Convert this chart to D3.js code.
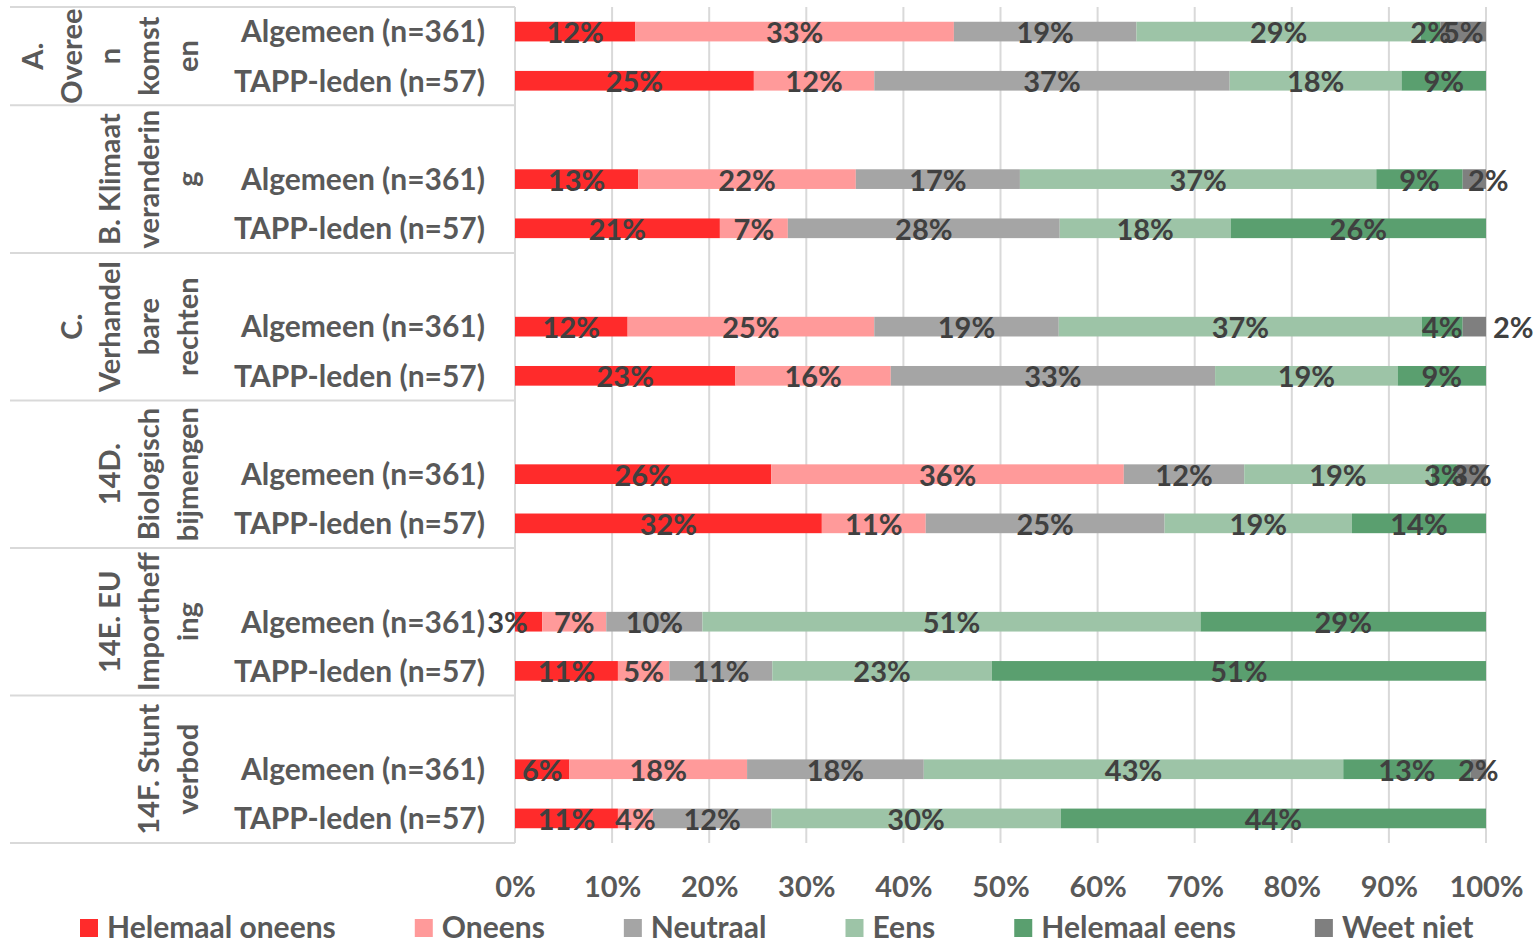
<!DOCTYPE html>
<html>
<head>
<meta charset="utf-8">
<script src="https://cdn.jsdelivr.net/npm/d3@7"></script>
<style>
body { margin: 0; background: #ffffff; }
svg { display: block; font-family: Lato, "Noto Sans", sans-serif; font-weight: 700; }
</style>
</head>
<body>
<svg id="chart" width="1540" height="941"></svg>
<script>
const COL_RED =      '#ff2b2b';
const COL_PINK =     '#ff9a9a';
const COL_GRAY =     '#a5a5a5';
const COL_LGREEN =   '#9dc4a7';
const COL_DGREEN =   '#5a9f6f';
const COL_DGRAY =    '#7f7f7f';
const TXT_DARK =     '#404040';
const TXT_AXIS =     '#595959';
const GRID =         '#d9d9d9';

// data
const answers = ['Helemaal oneens', 'Oneens', 'Neutraal', 'Eens', 'Helemaal eens', 'Weet niet'];
const answerColors = [COL_RED, COL_PINK, COL_GRAY, COL_LGREEN, COL_DGREEN, COL_DGRAY];

const groupIds = ['A', 'B', 'C', 'D', 'E', 'F'];
const groupLines = [
    ['A.', 'Overee', 'n', 'komst', 'en'],
    ['B. Klimaat', 'veranderin', 'g'],
    ['C.', 'Verhandel', 'bare', 'rechten'],
    ['14D.', 'Biologisch', 'bijmengen'],
    ['14E. EU', 'Importheff', 'ing'],
    ['14F. Stunt', 'verbod']
];
const respondents = ['Algemeen (n=361)', 'TAPP-leden (n=57)'];

// percentages in order of answers, one row per group
const algemeen = [
    [12.4, 32.8, 18.8, 29.3, 2.0, 4.7],
    [12.7, 22.4, 16.9, 36.7, 8.9, 2.4],
    [11.6, 25.4, 19.0, 37.4, 4.2, 2.4],
    [26.4, 36.3, 12.4, 19.3, 2.6, 3.0],
    [2.8, 6.6, 9.9, 51.3, 29.4, 0],
    [5.6, 18.3, 18.2, 43.2, 13.1, 1.6]
];
const tappLeden = [
    [24.6, 12.4, 36.6, 17.7, 8.7, 0],
    [21.1, 7.0, 28.0, 17.6, 26.3, 0],
    [22.7, 16.0, 33.4, 18.8, 9.1, 0],
    [31.6, 10.7, 24.6, 19.3, 13.8, 0],
    [10.6, 5.3, 10.6, 22.6, 50.9, 0],
    [10.6, 3.6, 12.2, 29.8, 43.8, 0]
];
const tickValues = [0, 10, 20, 30, 40, 50, 60, 70, 80, 90, 100];

// labels Excel had moved by hand
const labelNudge = {'C|0|Weet niet': 39, 'E|0|Helemaal oneens': -21, 'B|0|Weet niet': 14};

function draw_chart() {
    const svg = d3.select('svg#chart');

    const plotLeft = 515, plotRight = 1486, plotTop = 7, plotBottom = 843;

    // slots: every group except the first starts with an empty row
    const slots = [];
    const rows = [];
    groupIds.forEach((g, gi) => {
        if (gi > 0) slots.push(g + '|blank');
        [algemeen[gi], tappLeden[gi]].forEach((vals, ri) => {
            const key = g + '|' + ri;
            slots.push(key);
            const row = {key: key, group: g, label: respondents[ri]};
            answers.forEach((a, ai) => row[a] = vals[ai]);
            rows.push(row);
        });
    });

    const x = d3.scaleLinear().domain([0, 100]).range([plotLeft, plotRight]);
    const y = d3.scaleBand().domain(slots).range([plotTop, plotBottom])
        .paddingInner(0.6).paddingOuter(0.3);
    const color = d3.scaleOrdinal().domain(answers).range(answerColors);
    const slotStart = k => y(k) - y.step() * y.paddingOuter();

    // gridlines
    svg.append('g')
        .selectAll('line')
        .data(tickValues)
        .join('line')
        .attr('x1', d => x(d)).attr('x2', d => x(d))
        .attr('y1', plotTop).attr('y2', plotBottom)
        .attr('stroke', GRID).attr('stroke-width', 2);

    // group separators in the label area
    const groupStarts = groupIds.map((g, gi) => slotStart(gi > 0 ? g + '|blank' : g + '|0'));
    svg.append('g')
        .selectAll('line')
        .data(groupStarts.concat([plotBottom]))
        .join('line')
        .attr('x1', 10).attr('x2', plotLeft)
        .attr('y1', d => d).attr('y2', d => d)
        .attr('stroke', GRID).attr('stroke-width', 2);

    const series = d3.stack().keys(answers)(rows);

    const gBars = svg.append('g');
    gBars.selectAll('g')
        .data(series)
        .join('g')
        .attr('fill', d => color(d.key))
        .selectAll('rect')
        .data(d => d)
        .join('rect')
        .attr('x', d => x(d[0]))
        .attr('width', d => x(d[1]) - x(d[0]))
        .attr('y', d => y(d.data.key))
        .attr('height', y.bandwidth());

    // data labels
    const labelData = [];
    series.forEach(s => s.forEach(d => {
        if (d[1] - d[0] > 0) labelData.push({ans: s.key, d: d});
    }));
    svg.append('g')
        .selectAll('text')
        .data(labelData)
        .join('text')
        .attr('x', l => (x(l.d[0]) + x(l.d[1])) / 2 + (labelNudge[l.d.data.key + '|' + l.ans] || 0))
        .attr('y', l => y(l.d.data.key) + y.bandwidth() / 2 + 1)
        .attr('dy', '0.36em')
        .attr('text-anchor', 'middle')
        .attr('fill', TXT_DARK)
        .style('font-size', '29px')
        .text(l => d3.format('.0f')(l.d[1] - l.d[0]) + '%');

    // respondent labels
    svg.append('g')
        .selectAll('text')
        .data(rows)
        .join('text')
        .attr('x', 485)
        .attr('y', d => y(d.key) + y.bandwidth() / 2)
        .attr('dy', '0.36em')
        .attr('text-anchor', 'end')
        .attr('fill', TXT_AXIS)
        .style('font-size', '30px')
        .text(d => d.label);

    // group labels, rotated
    const lineGap = 38.8, lastBaseline = 198;
    groupIds.forEach((g, gi) => {
        const y0 = groupStarts[gi];
        const y1 = gi < groupIds.length - 1 ? groupStarts[gi + 1] : plotBottom;
        const lines = groupLines[gi];
        svg.append('g')
            .selectAll('text')
            .data(lines)
            .join('text')
            .attr('transform', (t, i) => `translate(${lastBaseline - (lines.length - 1 - i) * lineGap},${(y0 + y1) / 2}) rotate(-90)`)
            .attr('text-anchor', 'middle')
            .attr('fill', TXT_AXIS)
            .style('font-size', '29px')
            .text(t => t);
    });

    // x axis
    const xAxis = svg.append('g')
        .attr('transform', `translate(0,${plotBottom})`)
        .call(d3.axisBottom(x).tickValues(tickValues).tickFormat(d => d + '%').tickSize(0).tickPadding(33));
    xAxis.select('.domain').remove();
    xAxis.selectAll('text')
        .attr('fill', TXT_AXIS)
        .style('font-family', 'Lato, "Noto Sans", sans-serif')
        .style('font-weight', 700)
        .style('font-size', '29px');

    // legend
    const legend = svg.append('g').attr('transform', 'translate(80,927)');
    let lx = 0;
    answers.forEach((a, i) => {
        const item = legend.append('g').attr('transform', `translate(${lx},0)`);
        item.append('rect')
            .attr('x', 0).attr('y', -8)
            .attr('width', 18).attr('height', 18)
            .attr('fill', answerColors[i]);
        const t = item.append('text')
            .attr('x', 27)
            .attr('dy', '0.36em')
            .attr('fill', TXT_AXIS)
            .style('font-size', '30px')
            .text(a);
        lx += 27 + t.node().getComputedTextLength() + 79;
    });
}

draw_chart();
</script>
</body>
</html>
